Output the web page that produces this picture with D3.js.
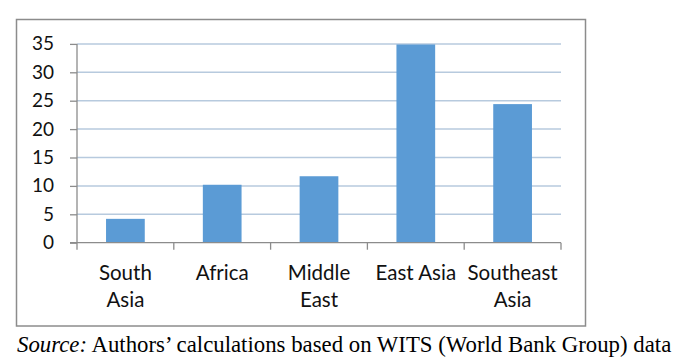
<!DOCTYPE html>
<html>
<head>
<meta charset="utf-8">
<script src="https://cdn.jsdelivr.net/npm/d3@7"></script>
<style>
  html, body { margin: 0; padding: 0; background: #fff; }
  svg { display: block; }
</style>
</head>
<body>
<svg id="chart" width="680" height="361"></svg>
<script>
const categories = [["South", "Asia"], ["Africa"], ["Middle", "East"], ["East Asia"], ["Southeast", "Asia"]];
const categoryKeys = ["South Asia", "Africa", "Middle East", "East Asia", "Southeast Asia"];
const values = [4.2, 10.2, 11.7, 34.9, 24.4];
const yTicks = [0, 5, 10, 15, 20, 25, 30, 35];
const sourceItalic = "Source:";
const sourceRest = " Authors\u2019 calculations based on WITS (World Bank Group) data";

const svg = d3.select("#chart");

// outer frame
svg.append("rect")
  .attr("x", 16.5).attr("y", 19.5)
  .attr("width", 569).attr("height", 306.5)
  .attr("fill", "#fff").attr("stroke", "#8c8c8c").attr("stroke-width", 1.5);

const x = d3.scaleBand().domain(categoryKeys).range([77, 561]).paddingInner(0.6).paddingOuter(0.3);
const y = d3.scaleLinear().domain([0, 35]).range([242.7, 43.9]);

// gridlines
svg.append("g").selectAll("line")
  .data(yTicks.filter(d => d > 0))
  .join("line")
  .attr("x1", 77).attr("x2", 561)
  .attr("y1", d => y(d)).attr("y2", d => y(d))
  .attr("stroke", "#b7cade").attr("stroke-width", 1.5);

// bars
svg.append("g").selectAll("rect")
  .data(values)
  .join("rect")
  .attr("x", (d, i) => x(categoryKeys[i]))
  .attr("width", x.bandwidth())
  .attr("y", d => y(d))
  .attr("height", d => y(0) - y(d))
  .attr("fill", "#5b9bd5");

// y axis
const yAxis = d3.axisLeft(y).tickValues(yTicks).tickSize(7).tickPadding(16);
const gy = svg.append("g").attr("transform", "translate(77,0)").call(yAxis);
gy.select(".domain").attr("stroke", "#8c8c8c").attr("stroke-width", 1.3).attr("d", `M0,${y(35)}V${y(0)}`);
gy.selectAll(".tick line").attr("stroke", "#8c8c8c").attr("stroke-width", 1.3);
gy.selectAll(".tick text")
  .attr("font-family", "Lato, 'Open Sans', sans-serif")
  .attr("font-size", 19).attr("fill", "#111");

// x axis baseline
svg.append("line")
  .attr("x1", 70).attr("x2", 561)
  .attr("y1", y(0)).attr("y2", y(0))
  .attr("stroke", "#8c8c8c").attr("stroke-width", 1.3);

// x tick marks at band boundaries
const bx = [x.range()[0]].concat(categoryKeys.map(k => x(k) + x.bandwidth() + x.step() * x.paddingInner() / 2));
svg.append("g").selectAll("line")
  .data(bx)
  .join("line")
  .attr("x1", d => d).attr("x2", d => d)
  .attr("y1", y(0)).attr("y2", y(0) + 7)
  .attr("stroke", "#8c8c8c").attr("stroke-width", 1.3);

// x labels
const lbl = svg.append("g").selectAll("text")
  .data(categories)
  .join("text")
  .attr("font-family", "Lato, 'Open Sans', sans-serif")
  .attr("font-size", 20.5).attr("fill", "#111")
  .attr("text-anchor", "middle");
lbl.each(function(lines, i) {
  const cx = x(categoryKeys[i]) + x.bandwidth() / 2;
  d3.select(this).selectAll("tspan")
    .data(lines)
    .join("tspan")
    .attr("x", cx)
    .attr("y", (d, j) => 280 + j * 27)
    .text(d => d);
});

// source note
const src = svg.append("text")
  .attr("x", 17).attr("y", 352)
  .attr("font-family", "'Liberation Serif', 'Times New Roman', serif")
  .attr("font-size", 22.8).attr("fill", "#000");
src.append("tspan").attr("font-style", "italic").text(sourceItalic);
src.append("tspan").text(sourceRest);
</script>
</body>
</html>
